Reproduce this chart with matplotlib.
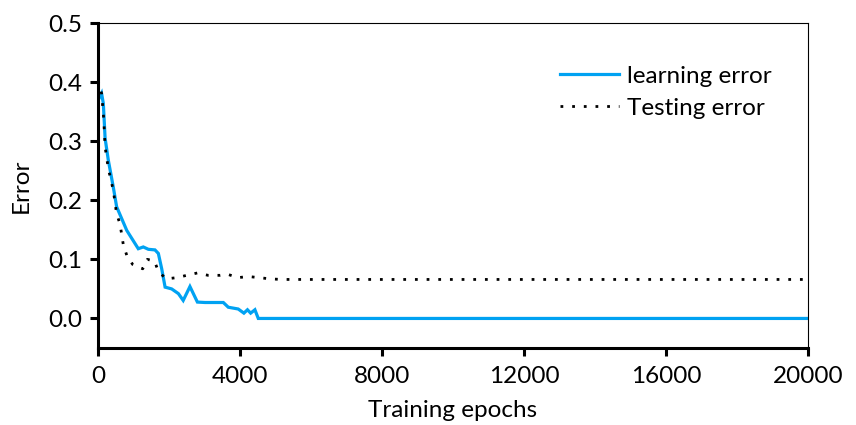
import matplotlib
matplotlib.use("Agg")
import matplotlib.pyplot as plt

plt.rcParams['font.family'] = ['Lato', 'DejaVu Sans']

learn_x = [0, 100, 150, 200, 290, 430, 525, 810, 1135, 1275, 1420, 1605, 1700, 1795, 1890,
           2075, 2265, 2400, 2590, 2800, 3015, 3530, 3670, 3950, 4110, 4210, 4300, 4420, 4515, 20000]
learn_y = [0.369, 0.381, 0.364, 0.305, 0.268, 0.2225, 0.189, 0.149, 0.118, 0.121, 0.117, 0.116, 0.110, 0.084, 0.053,
           0.050, 0.042, 0.0305, 0.054, 0.0277, 0.027, 0.027, 0.019, 0.016, 0.009, 0.0147, 0.009, 0.0147, 0.0, 0.0]

test_x = [0, 100, 150, 170, 200, 290, 430, 525, 620, 715, 810, 975, 1260, 1390, 1590, 1700, 1915,
          2215, 2500, 2800, 3100, 3440, 3640, 3935, 4235, 4540, 4850, 5160, 20000]
test_y = [0.403, 0.381, 0.347, 0.327, 0.29, 0.254, 0.217, 0.177, 0.160, 0.124, 0.107, 0.0915, 0.084, 0.100, 0.097, 0.080, 0.067,
          0.069, 0.073, 0.077, 0.073, 0.073, 0.075, 0.069, 0.071, 0.069, 0.067, 0.066, 0.066]

x_ticks = [0, 4000, 8000, 12000, 16000, 20000]
y_ticks = [0.0, 0.1, 0.2, 0.3, 0.4, 0.5]

fig = plt.figure(figsize=(8.56, 4.25), dpi=100)
ax = fig.add_axes([98/856, 1-348/425, 710/856, 325/425])

ax.plot(learn_x, learn_y, color='#00A2F2', lw=2.3, label='learning error', solid_joinstyle='miter')
ax.plot(test_x, test_y, color='black', lw=2.0, linestyle=(0, (1, 3.2)), label='Testing error')

ax.set_xlim(0, 20000)
ax.set_ylim(-0.05, 0.5)
ax.set_xticks(x_ticks)
ax.set_xticklabels([str(v) for v in x_ticks])
ax.set_yticks(y_ticks)
ax.set_yticklabels([f'{v:.1f}' for v in y_ticks])

for s in ['left', 'bottom']:
    ax.spines[s].set_linewidth(2.2)
for s in ['top', 'right']:
    ax.spines[s].set_linewidth(0.8)
ax.tick_params(axis='both', direction='out', length=6, width=2.2, labelsize=17.5)
ax.tick_params(axis='x', pad=7)
ax.tick_params(axis='y', pad=5)

ax.set_xlabel('Training epochs', fontsize=17.5, labelpad=9)
ax.set_ylabel('Error', fontsize=17.5, labelpad=12)

leg = ax.legend(loc='upper left', bbox_to_anchor=(0.6375, 0.898), frameon=False, fontsize=17.5,
                handlelength=2.4, handletextpad=0.35, labelspacing=0.45, borderaxespad=0)

fig.savefig('out.png', dpi=100)
